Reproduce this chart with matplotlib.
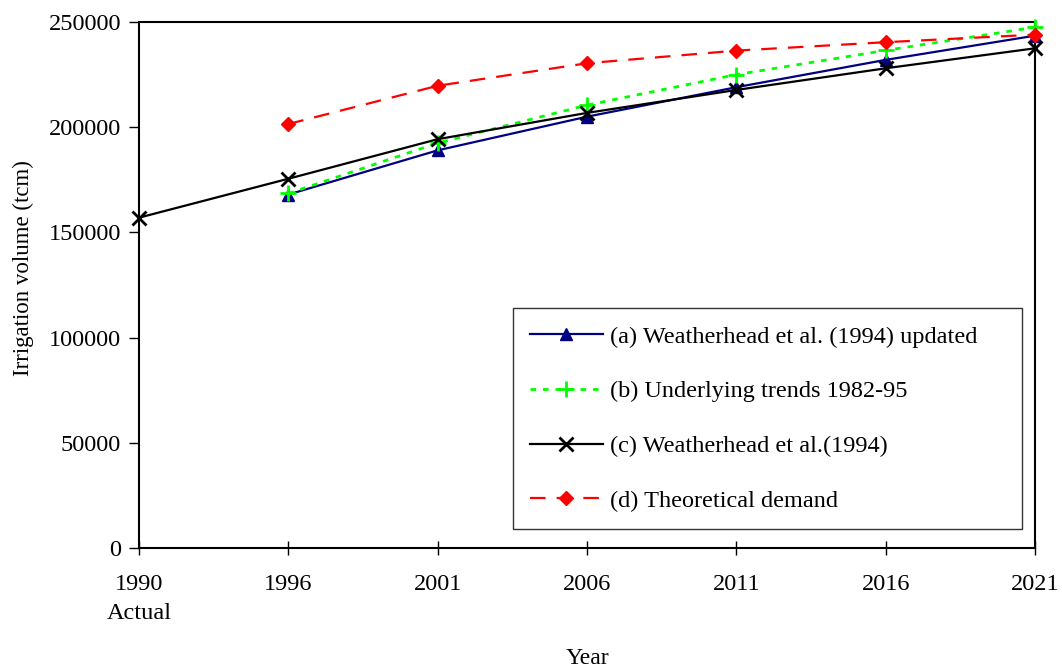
import matplotlib
matplotlib.use("Agg")
import matplotlib.pyplot as plt

categories = ["1990\nActual", "1996", "2001", "2006", "2011", "2016", "2021"]
series_a = [None, 168000, 189000, 205000, 219000, 232000, 243500]
series_b = [None, 168500, 192500, 210500, 225000, 236500, 247500]
series_c = [157000, 175500, 194300, 206800, 217700, 228000, 237500]
series_d = [None, 201500, 219700, 230400, 236400, 240400, 244000]
labels = ["(a) Weatherhead et al. (1994) updated",
          "(b) Underlying trends 1982-95",
          "(c) Weatherhead et al.(1994)",
          "(d) Theoretical demand"]
yticks = [0, 50000, 100000, 150000, 200000, 250000]

plt.rcParams['font.family'] = ['Liberation Serif', 'DejaVu Serif']
FS = 17.5

fig = plt.figure(figsize=(10.62, 6.71), dpi=100)
ax = fig.add_axes([139/1062, 1-548/671, (1035-139)/1062, (548-22)/671])

x = list(range(len(categories)))

def pts(vals):
    xs = [i for i, v in zip(x, vals) if v is not None]
    ys = [v for v in vals if v is not None]
    return xs, ys

xa, ya = pts(series_a)
ax.plot(xa, ya, color='#000080', lw=1.6, marker='^', ms=9, label=labels[0], clip_on=False, zorder=3)
xb, yb = pts(series_b)
ax.plot(xb, yb, color='#00FF00', lw=2, ls=(0, (2, 2.5)), marker='+', ms=12, mew=2, label=labels[1], clip_on=False, zorder=4)
xc, yc = pts(series_c)
ax.plot(xc, yc, color='black', lw=1.6, marker='x', ms=10, mew=2, label=labels[2], clip_on=False, zorder=5)
xd, yd = pts(series_d)
ax.plot(xd, yd, color='#FF0000', lw=1.6, ls=(0, (7, 5)), marker='D', ms=7.5, label=labels[3], clip_on=False, zorder=6)

ax.set_xlim(0, 6)
ax.set_ylim(0, 250000)
ax.set_xticks(x)
ax.set_xticklabels(categories, fontsize=FS, linespacing=1.5)
ax.set_yticks(yticks)
ax.set_yticklabels([str(v) for v in yticks], fontsize=FS)
ax.tick_params(axis='x', direction='inout', length=9.5, width=1, colors='black', pad=14)
ax.tick_params(axis='y', direction='out', length=7, width=1, colors='black', pad=6)
for s in ax.spines.values():
    s.set_linewidth(1.5)
    s.set_color('black')

ax.set_xlabel("Year", fontsize=17)
ax.xaxis.set_label_coords((587-139)/896, (548-659)/526)
ax.xaxis.label.set_verticalalignment('center')
ax.set_ylabel("Irrigation volume (tcm)", fontsize=16.5)
ax.yaxis.set_label_coords((23-139)/896, (548-268)/526)
ax.yaxis.label.set_verticalalignment('center')

leg = ax.legend(loc='lower left', bbox_to_anchor=((513-139)/896, (548-529)/526, (1022-513)/896, (529-311)/526),
                mode='expand',
                fontsize=FS, frameon=True, fancybox=False, edgecolor='black',
                labelspacing=1.35, handlelength=3.0, handletextpad=0.3, borderpad=0.7,
                borderaxespad=0)
leg.get_frame().set_linewidth(1)

fig.savefig("out.png", dpi=100)
